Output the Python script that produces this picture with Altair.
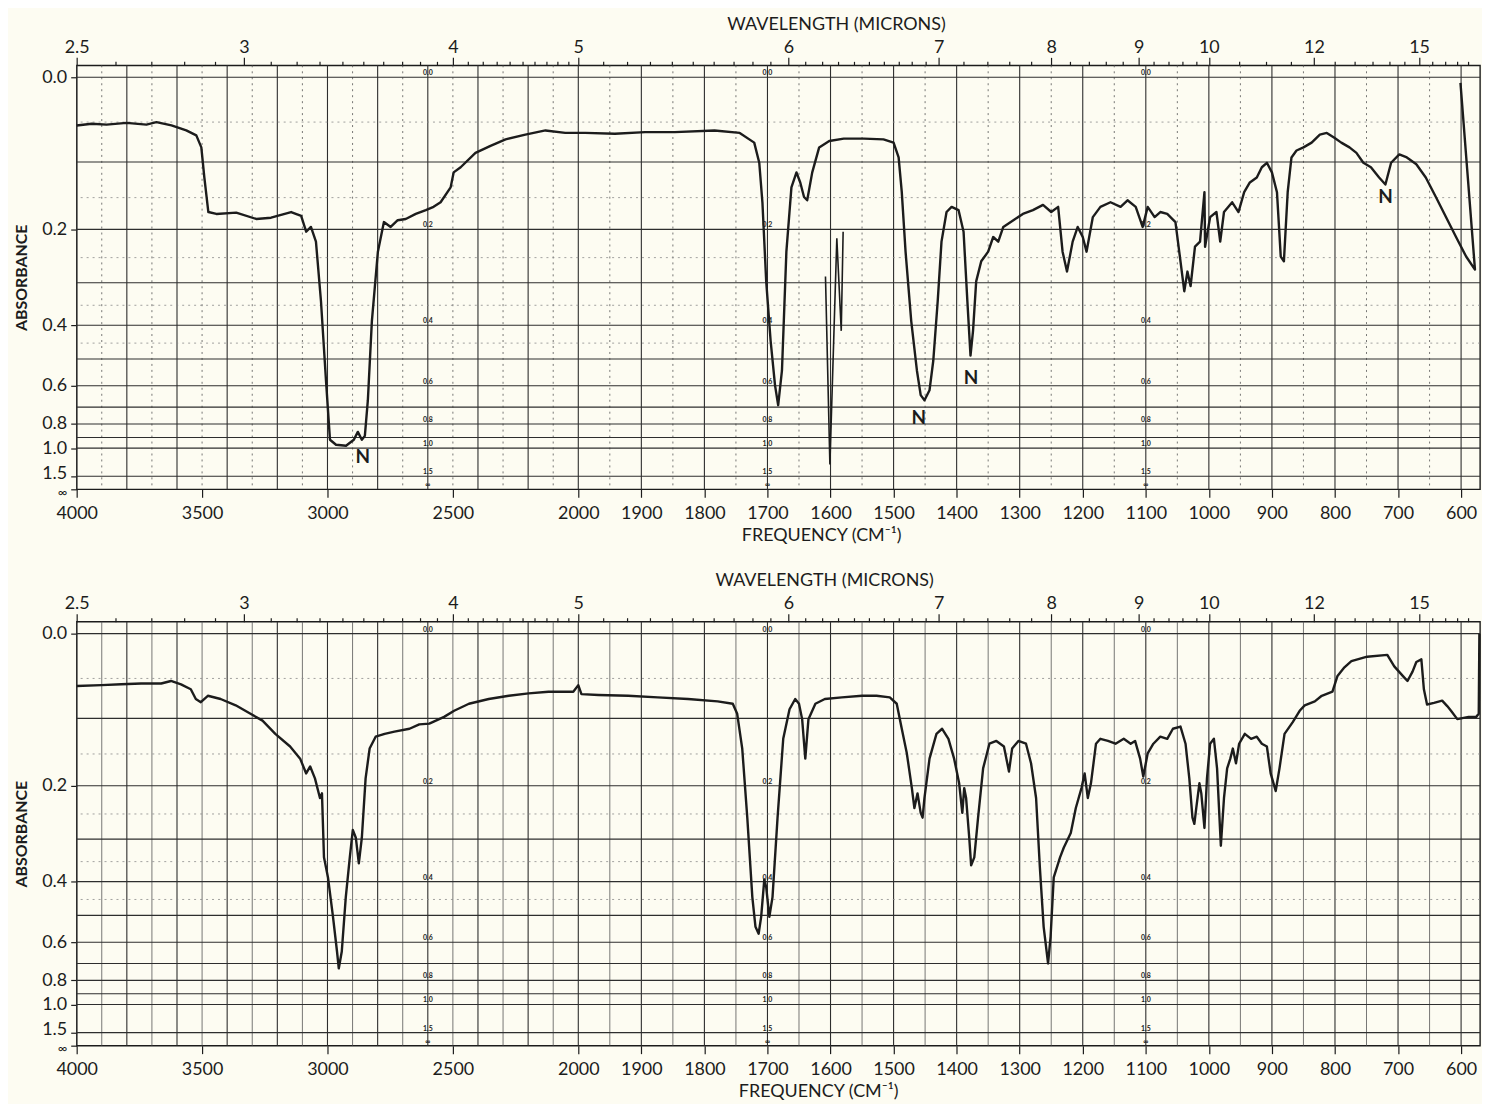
import altair as alt
import pandas as pd

# ---------------- values ----------------
# (wavenumber cm-1, absorbance)
TOP_SPECTRUM = [
    (4000, 0.054), (3940, 0.052), (3881, 0.053), (3801, 0.051), (3722, 0.053), (3682, 0.050),
    (3622, 0.054), (3563, 0.060), (3523, 0.066), (3503, 0.081), (3491, 0.121), (3475, 0.172),
    (3443, 0.175), (3364, 0.173), (3284, 0.183), (3225, 0.181), (3145, 0.172), (3105, 0.178),
    (3085, 0.204), (3066, 0.196), (3046, 0.221), (3026, 0.340), (3006, 0.578), (2990, 0.920),
    (2966, 0.966), (2926, 0.976), (2895, 0.920), (2879, 0.856), (2863, 0.920), (2851, 0.887),
    (2839, 0.665), (2823, 0.389), (2799, 0.239), (2775, 0.188), (2748, 0.196), (2720, 0.185),
    (2688, 0.183), (2648, 0.175), (2608, 0.169), (2577, 0.164), (2549, 0.157), (2509, 0.135),
    (2497, 0.114), (2469, 0.107), (2410, 0.088), (2350, 0.079), (2290, 0.071), (2211, 0.065),
    (2131, 0.060), (2052, 0.063), (1989, 0.063), (1942, 0.064), (1894, 0.062), (1847, 0.062),
    (1784, 0.060), (1744, 0.063), (1721, 0.075), (1713, 0.101), (1708, 0.157), (1702, 0.297),
    (1695, 0.443), (1688, 0.598), (1683, 0.690), (1677, 0.540), (1670, 0.239), (1662, 0.135),
    (1654, 0.114), (1648, 0.128), (1642, 0.149), (1637, 0.154), (1629, 0.114), (1618, 0.081),
    (1602, 0.073), (1579, 0.070), (1547, 0.070), (1516, 0.071), (1500, 0.075), (1492, 0.094),
    (1487, 0.142), (1481, 0.239), (1472, 0.389), (1463, 0.540), (1457, 0.641), (1451, 0.665),
    (1443, 0.619), (1437, 0.505), (1430, 0.340), (1424, 0.221), (1416, 0.172), (1408, 0.164),
    (1397, 0.169), (1389, 0.204), (1383, 0.340), (1378, 0.489), (1374, 0.415), (1369, 0.297),
    (1361, 0.257), (1350, 0.239), (1342, 0.213), (1334, 0.221), (1326, 0.196), (1310, 0.185),
    (1295, 0.175), (1279, 0.169), (1263, 0.161), (1250, 0.172), (1239, 0.164), (1232, 0.239),
    (1225, 0.277), (1216, 0.221), (1208, 0.196), (1200, 0.213), (1194, 0.239), (1184, 0.180),
    (1172, 0.164), (1156, 0.157), (1140, 0.164), (1129, 0.154), (1116, 0.164), (1105, 0.196),
    (1097, 0.164), (1086, 0.180), (1077, 0.172), (1066, 0.175), (1053, 0.188), (1045, 0.257),
    (1039, 0.318), (1034, 0.277), (1029, 0.307), (1022, 0.230), (1014, 0.221), (1007, 0.142),
    (1006, 0.230), (998, 0.180), (988, 0.172), (982, 0.221), (976, 0.172), (963, 0.157),
    (953, 0.172), (944, 0.142), (935, 0.128), (924, 0.121), (916, 0.107), (908, 0.101),
    (900, 0.114), (892, 0.142), (886, 0.248), (881, 0.257), (875, 0.142), (869, 0.094),
    (861, 0.085), (850, 0.081), (837, 0.075), (824, 0.065), (813, 0.063), (801, 0.069),
    (790, 0.075), (777, 0.081), (766, 0.088), (755, 0.101), (743, 0.107), (730, 0.121),
    (720, 0.131), (711, 0.101), (698, 0.090), (686, 0.094), (671, 0.103), (656, 0.121),
    (640, 0.149), (624, 0.180), (608, 0.213), (592, 0.248), (578, 0.273), (601, 0.006),
]

BOTTOM_SPECTRUM = [
    (4000, 0.059), (3901, 0.058), (3822, 0.057), (3743, 0.056), (3663, 0.056), (3624, 0.053),
    (3584, 0.057), (3545, 0.063), (3525, 0.075), (3505, 0.079), (3477, 0.071), (3426, 0.075),
    (3366, 0.083), (3307, 0.094), (3259, 0.103), (3208, 0.121), (3149, 0.139), (3109, 0.157),
    (3085, 0.180), (3069, 0.169), (3050, 0.188), (3030, 0.221), (3022, 0.213), (3014, 0.340),
    (2998, 0.389), (2978, 0.505), (2962, 0.641), (2955, 0.727), (2943, 0.641), (2927, 0.443),
    (2911, 0.340), (2899, 0.281), (2887, 0.297), (2875, 0.354), (2863, 0.297), (2848, 0.188),
    (2832, 0.142), (2808, 0.125), (2772, 0.121), (2733, 0.118), (2673, 0.114), (2634, 0.108),
    (2594, 0.107), (2535, 0.098), (2495, 0.090), (2436, 0.081), (2357, 0.075), (2277, 0.071),
    (2198, 0.068), (2119, 0.066), (2020, 0.066), (2000, 0.058), (1995, 0.069), (1968, 0.070),
    (1921, 0.071), (1874, 0.073), (1826, 0.075), (1779, 0.078), (1755, 0.081), (1748, 0.094),
    (1740, 0.142), (1732, 0.257), (1724, 0.443), (1719, 0.540), (1714, 0.566), (1710, 0.505),
    (1705, 0.394), (1702, 0.415), (1697, 0.505), (1692, 0.443), (1684, 0.257), (1675, 0.128),
    (1665, 0.088), (1656, 0.075), (1650, 0.081), (1645, 0.101), (1640, 0.157), (1635, 0.101),
    (1624, 0.081), (1609, 0.075), (1582, 0.073), (1550, 0.071), (1527, 0.071), (1506, 0.073),
    (1495, 0.081), (1487, 0.114), (1479, 0.149), (1471, 0.204), (1467, 0.239), (1462, 0.213),
    (1457, 0.248), (1454, 0.257), (1451, 0.221), (1443, 0.157), (1432, 0.121), (1423, 0.114),
    (1413, 0.128), (1404, 0.157), (1396, 0.196), (1391, 0.248), (1388, 0.204), (1385, 0.221),
    (1380, 0.297), (1377, 0.359), (1372, 0.340), (1366, 0.257), (1358, 0.172), (1348, 0.135),
    (1337, 0.131), (1325, 0.139), (1317, 0.177), (1312, 0.142), (1302, 0.131), (1290, 0.135),
    (1282, 0.164), (1274, 0.221), (1268, 0.364), (1262, 0.540), (1255, 0.700), (1251, 0.578),
    (1246, 0.389), (1236, 0.340), (1230, 0.318), (1219, 0.287), (1211, 0.239), (1202, 0.204),
    (1197, 0.180), (1192, 0.221), (1187, 0.196), (1179, 0.135), (1172, 0.128), (1160, 0.131),
    (1148, 0.135), (1135, 0.128), (1124, 0.135), (1117, 0.131), (1109, 0.157), (1104, 0.185),
    (1097, 0.149), (1088, 0.135), (1077, 0.125), (1066, 0.128), (1057, 0.114), (1045, 0.111),
    (1037, 0.135), (1031, 0.188), (1026, 0.257), (1023, 0.269), (1020, 0.239), (1015, 0.196),
    (1012, 0.213), (1007, 0.277), (1003, 0.188), (998, 0.135), (992, 0.128), (987, 0.172),
    (981, 0.314), (976, 0.221), (971, 0.172), (966, 0.157), (962, 0.142), (957, 0.164),
    (952, 0.135), (943, 0.121), (933, 0.128), (924, 0.125), (916, 0.135), (908, 0.139),
    (902, 0.180), (894, 0.209), (888, 0.172), (880, 0.121), (867, 0.105), (856, 0.090),
    (848, 0.083), (832, 0.078), (821, 0.071), (804, 0.066), (796, 0.047), (785, 0.037),
    (774, 0.030), (749, 0.025), (717, 0.023), (706, 0.036), (690, 0.049), (685, 0.053),
    (677, 0.042), (671, 0.031), (663, 0.028), (659, 0.063), (654, 0.082), (643, 0.080),
    (630, 0.077), (622, 0.084), (616, 0.090), (606, 0.101), (588, 0.098), (576, 0.098),
    (572, 0.094), (571, 0.000),
]

# polystyrene calibration trace drawn on the top chart
CALIBRATION = [(1608, 0.287), (1601, 1.22), (1590, 0.215), (1583, 0.415), (1580, 0.204)]

# "N" (nujol) marks on the top chart: wavenumber, absorbance
N_MARKS = [(2859, 1.10), (1460, 0.762), (1377, 0.570), (720, 0.149)]

FREQ_TICKS = [4000, 3500, 3000, 2500, 2000, 1900, 1800, 1700, 1600, 1500, 1400,
              1300, 1200, 1100, 1000, 900, 800, 700, 600]
MICRON_TICKS = [2.5, 3, 4, 5, 6, 7, 8, 9, 10, 12, 15]
MICRON_MINOR = [2.6, 2.7, 2.8, 2.9, 3.1, 3.2, 3.3, 3.4, 3.5, 3.6, 3.7, 3.8, 3.9,
                4.1, 4.2, 4.3, 4.4, 4.5, 4.6, 4.7, 4.8, 4.9, 5.1, 5.2, 5.3, 5.4,
                5.5, 5.6, 5.7, 5.8, 5.9, 6.1, 6.2, 6.3, 6.4, 6.5, 6.6, 6.7, 6.8,
                6.9, 7.2, 7.4, 7.6, 7.8, 8.2, 8.4, 8.6, 8.8, 9.2, 9.4, 9.6, 9.8,
                10.5, 11, 11.5, 12.5, 13, 13.5, 14, 14.5, 15.5, 16, 16.5, 17]
ABS_TICKS = [0.0, 0.2, 0.4, 0.6, 0.8, 1.0, 1.5]
ABS_GRID_SOLID = [0.0, 0.1, 0.2, 0.3, 0.4, 0.5, 0.6, 0.7, 0.8, 0.9, 1.0, 1.5]
ABS_GRID_DASHED = [0.05, 0.15, 0.25, 0.35, 0.45]
INLINE_NU = [2600, 1700, 1100]
INLINE_TEXT = ["0.0", "0.2", "0.4", "0.6", "0.8", "1.0", "1.5"]

# ---------------- styling / geometry ----------------
FONT = "Lato, sans-serif"
INK = "#1c1c1c"
GRID = "#2e2e2e"
FAINT = "#8a8a8a"
BG = "#fdfcf2"
W, H = 1410, 426
BREAK_U = 504.0                       # chart position of 2000 cm-1 (grating change)
HI_K = BREAK_U / 2000.0               # 4000 -> 2000 cm-1
LO_K = (W - BREAK_U) / (2000 - 570)   # 2000 -> 570 cm-1
T_MAX = 1.029

# piecewise-linear frequency scale (as on the chart paper)
U_EXPR = (f"datum.nu >= 2000 ? (4000 - datum.nu) * {HI_K} "
          f": {BREAK_U} + (2000 - datum.nu) * {LO_K}")
T_EXPR = "pow(10, -datum.A)"


def u_of(nu):
    return (4000 - nu) * HI_K if nu >= 2000 else BREAK_U + (2000 - nu) * LO_K


hi = list(range(4000, 2000, -100))
lo = list(range(2000, 569, -50))
V_MAJOR = [v for v in hi if v % 200 == 0] + [v for v in lo if v % 100 == 0]
V_MINOR = [v for v in hi if v % 200 != 0] + [v for v in lo if v % 100 != 0]

IS_INF = "datum.value <= 0.0001"
IS_15 = "datum.value > 0.02 && datum.value < 0.05"
Y_VALS = [10 ** (-a) for a in ABS_TICKS] + [0.0]
Y_AXIS = alt.Axis(
    values=Y_VALS,
    labelExpr=f"{IS_INF} ? '∞' : format(abs(log(datum.value)/LN10), '.1f')",
    labelFontSize={"condition": {"test": IS_INF, "value": 13}, "value": 18},
    labelOffset={"condition": [{"test": IS_INF, "value": 3}, {"test": IS_15, "value": -3}],
                 "value": 0},
    tickSize=6, labelPadding=4, title="ABSORBANCE",
    titleFontWeight="bold", titleFontSize=16, titlePadding=12,
)


def xenc(axis=None):
    sc = alt.Scale(type="linear", domain=[0, W], nice=False, zero=False)
    if axis is None:
        return alt.X("u:Q", scale=sc, axis=None)
    return alt.X("u:Q", scale=sc, axis=axis)


def yenc():
    sc = alt.Scale(type="linear", domain=[0, T_MAX], nice=False, zero=False)
    return alt.Y("T:Q", scale=sc, axis=Y_AXIS)


MAJ_LIST = "[" + ",".join(str(m) for m in MICRON_TICKS) + "]"
NU_OF_VALUE = f"(datum.value <= {BREAK_U} ? 4000 - datum.value / {HI_K} : 2000 - (datum.value - {BREAK_U}) / {LO_K})"
IS_MAJOR = f"indexof({MAJ_LIST}, round(100000 / {NU_OF_VALUE}) / 10) >= 0"


def panel(spectrum, minor_dash, top_title_x, bottom_title_x, cal=None, notes=None):
    layers = []
    minor_kw = dict(stroke="#555555", strokeWidth=0.8)
    if minor_dash:
        minor_kw["strokeDash"] = [2, 4]
    layers.append(alt.Chart(pd.DataFrame({"nu": V_MINOR})).transform_calculate(u=U_EXPR)
                  .mark_rule(**minor_kw).encode(x=xenc()))
    layers.append(alt.Chart(pd.DataFrame({"nu": V_MAJOR})).transform_calculate(u=U_EXPR)
                  .mark_rule(stroke=GRID, strokeWidth=1.1).encode(x=xenc()))
    layers.append(alt.Chart(pd.DataFrame({"A": ABS_GRID_DASHED})).transform_calculate(T=T_EXPR)
                  .mark_rule(stroke=FAINT, strokeWidth=0.8, strokeDash=[2, 4])
                  .encode(y=yenc()))
    layers.append(alt.Chart(pd.DataFrame({"A": ABS_GRID_SOLID})).transform_calculate(T=T_EXPR)
                  .mark_rule(stroke=GRID, strokeWidth=1.1).encode(y=yenc()))

    # small scale labels printed on the chart paper
    rows = []
    for nu in INLINE_NU:
        for a, t in zip(ABS_TICKS, INLINE_TEXT):
            rows.append({"nu": nu, "T": 10 ** (-a), "lab": t})
        rows.append({"nu": nu, "T": 0.0, "lab": "∞"})
    layers.append(alt.Chart(pd.DataFrame(rows)).transform_calculate(u=U_EXPR)
                  .mark_text(fontSize=7, baseline="bottom", dy=-1, color=INK, fontWeight="bold")
                  .encode(x=xenc(), y=yenc(), text="lab:N"))

    # wavelength axis (top)
    all_um = sorted(MICRON_TICKS + MICRON_MINOR)
    top_vals = [u_of(10000.0 / m) for m in all_um]
    layers.append(alt.Chart(pd.DataFrame({"nu": [10000.0 / m for m in all_um]}))
                  .transform_calculate(u=U_EXPR)
                  .mark_point(opacity=0)
                  .encode(x=xenc(alt.Axis(
                      orient="top", values=top_vals,
                      labelExpr=f"{IS_MAJOR} ? format(10000 / {NU_OF_VALUE}, '.1~f') : ''",
                      tickSize={"condition": {"test": IS_MAJOR, "value": 8}, "value": 4},
                      labelPadding=1, title="WAVELENGTH (MICRONS)", titleX=top_title_x,
                      titlePadding=5))))

    if cal is not None:
        layers.append(alt.Chart(pd.DataFrame(cal, columns=["nu", "A"]))
                      .transform_calculate(u=U_EXPR, T=T_EXPR)
                      .mark_line(stroke=INK, strokeWidth=1.6)
                      .encode(x=xenc(), y=yenc()))

    sdf = pd.DataFrame(spectrum, columns=["nu", "A"])
    sdf["i"] = range(len(sdf))
    layers.append(
        alt.Chart(sdf).transform_calculate(u=U_EXPR, T=T_EXPR)
        .mark_line(stroke=INK, strokeWidth=2.4, strokeJoin="round")
        .encode(
            x=xenc(alt.Axis(orient="bottom", values=[u_of(v) for v in FREQ_TICKS],
                            labelExpr=f"format(round({NU_OF_VALUE}), 'd')",
                            tickSize=8, labelPadding=7, title="FREQUENCY (CM⁻¹)",
                            titleX=bottom_title_x, titlePadding=4)),
            y=yenc(),
            order="i:Q",
        )
    )

    if notes is not None:
        layers.append(alt.Chart(pd.DataFrame(notes, columns=["nu", "A"]))
                      .transform_calculate(u=U_EXPR, T=T_EXPR, lab="'N'")
                      .mark_text(fontSize=19, fontWeight="bold", color=INK)
                      .encode(x=xenc(), y=yenc(), text="lab:N"))

    return alt.layer(*layers).resolve_scale(x="independent").properties(width=W, height=H)


top = panel(TOP_SPECTRUM, True, 763, 748, cal=CALIBRATION, notes=N_MARKS)
bottom = panel(BOTTOM_SPECTRUM, False, 751, 745)

chart = (
    alt.vconcat(top, bottom, spacing=26)
    .properties(padding={"left": 5, "top": 4, "right": 0, "bottom": 0}, background=BG)
    .configure_view(stroke=INK, strokeWidth=1.4, fill=BG)
    .configure_axis(grid=False, domain=False, tickColor=INK, tickWidth=1.2, labelColor=INK,
                    titleColor=INK, labelFont=FONT, titleFont=FONT, labelFontSize=18,
                    titleFontSize=18, titleFontWeight="normal", labelFlush=False,
                    labelOverlap=False)
    .configure_text(font=FONT)
)

chart.save("out.html", embed_options={"renderer": "svg", "actions": False})
